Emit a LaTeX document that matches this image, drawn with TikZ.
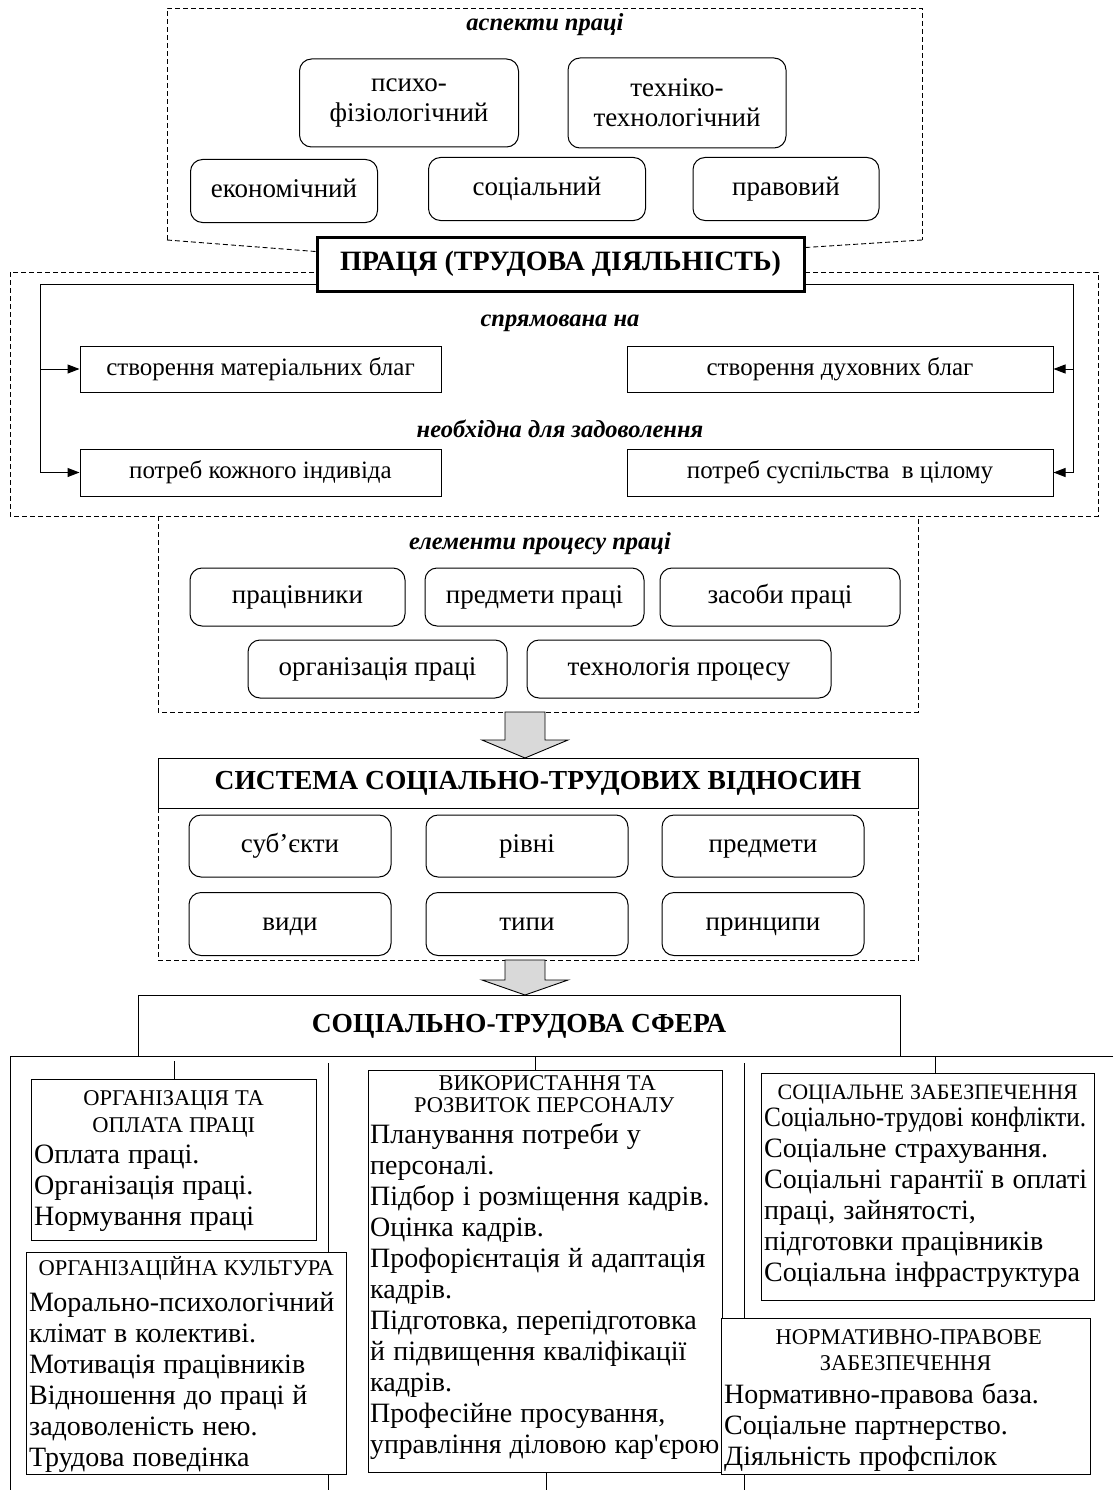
\documentclass[tikz,border=0pt]{standalone}
\usepackage{fontspec}
\usepackage{graphicx}
\setmainfont{Liberation Serif}
\usetikzlibrary{arrows.meta,calc}
\newcommand{\hdf}[1][27]{\centering\fontsize{22.5}{#1}\selectfont\spaceskip=0.27em\relax\lineskiplimit=-30pt\rule{0pt}{20pt}}
\newcommand{\bdf}{\raggedright\fontsize{28}{31}\selectfont\spaceskip=0.29em\relax\lineskiplimit=-30pt}
\newcommand{\bl}[1]{\mbox{#1}\\}
\newcommand{\blast}[1]{\mbox{#1}\par}
\begin{document}
\begin{tikzpicture}[x=1pt,y=-1pt,
  ln/.style={line width=1pt},
  dsh/.style={line width=0.9pt, dash pattern=on 5pt off 3pt},
  rbase/.style={draw, line width=1pt, rounded corners=12pt, align=center, inner sep=0pt, font=\fontsize{27}{30}\selectfont},
  rbox/.style={rbase, text height=19pt, text depth=6pt},
  sbox/.style={draw, line width=1pt, fill=white, align=center, inner sep=0pt, text height=18pt, text depth=6pt, font=\fontsize{25}{29}\selectfont},
  lbl/.style={font=\bfseries\itshape\fontsize{24.5}{29}\selectfont, inner sep=0pt, text height=17pt, text depth=5pt},
  ttl/.style={draw, fill=white, align=center, inner sep=0pt, text height=19pt, text depth=6pt, font=\bfseries\fontsize{27.5}{32}\selectfont},
  tri/.style={-{Triangle[length=12pt,width=9pt]}},
  barrow/.style={draw, line width=0.9pt, fill=black!15},
  frame/.style={draw, line width=1pt, fill=white, inner sep=0pt, anchor=north west},
  txt/.style={inner sep=0pt, anchor=north west}
]
\useasboundingbox (0,0) rectangle (1113,1490);

% ---------- aspects ----------
\coordinate (aspBL) at (167,240);
\coordinate (aspBR) at (922,240);
\draw[dsh] (aspBL) -- (167,8) -- (922,8) -- (aspBR);
\node[lbl] (aspT) at (545,25) {аспекти праці};
\node[rbase, minimum width=219pt, minimum height=88pt] (psy) at (409,103) {психо-\\фізіологічний};
\node[rbase, minimum width=218pt, minimum height=90pt] (tech) at (677,103) {техніко-\\технологічний};
\node[rbox, minimum width=187pt, minimum height=63pt] (econ) at (284,191) {економічний};
\node[rbox, minimum width=217pt, minimum height=63pt] (soc) at (537,189) {соціальний};
\node[rbox, minimum width=186pt, minimum height=63pt] (law) at (786,189) {правовий};

% ---------- frame 2 and PRACIA ----------
\draw[dsh] (10,272) rectangle (1098,516);
\node[ttl, line width=3pt, minimum width=487pt, minimum height=54pt, font=\bfseries\fontsize{28}{32}\selectfont] (pracia) at (560.5,264) {ПРАЦЯ (ТРУДОВА ДІЯЛЬНІСТЬ)};
\draw[dsh] (aspBL) -- ($(pracia.north west)+(0,16)$);
\draw[dsh] (aspBR) -- ($(pracia.north east)+(0,12)$);

\node[lbl] (sprT) at (560,320) {спрямована на};
\node[lbl] (neobT) at (560,431) {необхідна для задоволення};
\node[sbox, minimum width=361pt, minimum height=46pt] (mat) at (260.5,369) {створення матеріальних благ};
\node[sbox, minimum width=426pt, minimum height=46pt] (duh) at (840,369) {створення духовних благ};
\node[sbox, minimum width=361pt, minimum height=47pt] (indiv) at (260.5,472.5) {потреб кожного індивіда};
\node[sbox, minimum width=426pt, minimum height=47pt] (suspil) at (840,472.5) {потреб суспільства \ в цілому};

\coordinate (bl) at (40,284);
\coordinate (br) at (1073,284);
\draw[ln,tri] (pracia.west |- bl) -- (bl) |- (indiv.west);
\draw[ln,tri] (bl |- mat.west) -- (mat.west);
\draw[ln,tri] (pracia.east |- br) -- (br) |- (suspil.east);
\draw[ln,tri] (br |- duh.east) -- (duh.east);

% ---------- elements ----------
\draw[dsh] (158,516) -- (158,712) -- (918,712) -- (918,516);
\node[lbl] (elT) at (540,543) {елементи процесу праці};
\node[rbox, minimum width=215pt, minimum height=58pt] (prac) at (297.5,597) {працівники};
\node[rbox, minimum width=219pt, minimum height=58pt] (predm) at (534.5,597) {предмети праці};
\node[rbox, minimum width=240pt, minimum height=58pt] (zasob) at (780,597) {засоби праці};
\node[rbox, minimum width=259pt, minimum height=58pt] (orgp) at (377.5,669) {організація праці};
\node[rbox, minimum width=304pt, minimum height=58pt] (techp) at (679,669) {технологія процесу};

% block arrow 1
\coordinate (a1) at (525,712);
\draw[barrow] ($(a1)+(-20,0)$) -- ($(a1)+(20,0)$) -- ($(a1)+(20,28)$) -- ($(a1)+(43,28)$) -- ($(a1)+(0,46)$) -- ($(a1)+(-43,28)$) -- ($(a1)+(-20,28)$) -- cycle;

% ---------- system ----------
\draw[dsh] (158,808) -- (158,960) -- (918,960) -- (918,808);
\node[ttl, line width=1pt, minimum width=760pt, minimum height=50pt] (sys) at (538,783) {СИСТЕМА СОЦІАЛЬНО-ТРУДОВИХ ВІДНОСИН};
\node[rbox, minimum width=202pt, minimum height=62pt] (subj) at (290,846) {суб’єкти};
\node[rbox, minimum width=202pt, minimum height=62pt] (rivni) at (527,846) {рівні};
\node[rbox, minimum width=202pt, minimum height=62pt] (predmety) at (763,846) {предмети};
\node[rbox, minimum width=202pt, minimum height=63pt] (vydy) at (290,924) {види};
\node[rbox, minimum width=202pt, minimum height=63pt] (typy) at (527,924) {типи};
\node[rbox, minimum width=202pt, minimum height=63pt] (pryn) at (763,924) {принципи};

% block arrow 2
\coordinate (a2) at (525,960);
\draw[barrow] ($(a2)+(-20,0)$) -- ($(a2)+(20,0)$) -- ($(a2)+(20,20)$) -- ($(a2)+(43,20)$) -- ($(a2)+(0,35)$) -- ($(a2)+(-43,20)$) -- ($(a2)+(-20,20)$) -- cycle;

% ---------- sphere ----------
\node[ttl, line width=1pt, minimum width=762pt, minimum height=61pt] (sfera) at (519,1025.5) {СОЦІАЛЬНО-ТРУДОВА СФЕРА};
\coordinate (hl) at (10,1056);
\draw[ln] (1113,1056) -- (hl) -- (10,1490);
\draw[ln] (328,1063) -- (328,1490);
\draw[ln] (744,1063) -- (744,1490);

% boxes
\node[frame, minimum width=285pt, minimum height=161pt] (orgpay) at (31,1079) {};
\node[frame, minimum width=320pt, minimum height=222pt] (orgcult) at (26,1252) {};
\node[frame, minimum width=354pt, minimum height=402pt] (pers) at (368,1070) {};
\node[frame, minimum width=333pt, minimum height=227pt] (socsec) at (761,1073) {};
\node[frame, minimum width=369pt, minimum height=156pt] (norm) at (721,1318) {};

\draw[ln] (orgpay.north) -- (orgpay.north |- 0,1061);
\draw[ln] (535,1056) -- (535,1070);
\draw[ln] (935,1056) -- (935,1073);
\draw[ln] (546,1472) -- (546,1490);

\node[txt, text width=279pt] (orgpayT) at (34,1085.5) {\hdf ОРГАНІЗАЦІЯ ТА\\ ОПЛАТА ПРАЦІ\par\bdf\bl{Оплата праці.}\bl{Організація праці.}\blast{Нормування праці}};
\node[txt, text width=314pt] (orgcultT) at (29,1255.5) {\hdf ОРГАНІЗАЦІЙНА КУЛЬТУРА\par\vspace{4.5pt}\bdf\bl{Морально-психологічний}\bl{клімат в колективі.}\bl{Мотивація працівників}\bl{Відношення до праці й}\bl{задоволеність нею.}\blast{Трудова поведінка}};
\node[txt, text width=348pt] (persT) at (370,1070.5) {\hdf[22] ВИКОРИСТАННЯ ТА\\ РОЗВИТОК ПЕРСОНАЛУ\par\bdf\bl{Планування потреби у}\bl{персоналі.}\bl{Підбор і розміщення кадрів.}\bl{Оцінка кадрів.}\bl{Профорієнтація й адаптація}\bl{кадрів.}\bl{Підготовка, перепідготовка}\bl{й підвищення кваліфікації}\bl{кадрів.}\bl{Професійне просування,}\blast{\resizebox{349pt}{\height}{управління діловою кар\textquotesingle єрою}}};
\node[txt, text width=327pt] (socsecT) at (764,1079) {\hdf\fontsize{22}{27}\selectfont\spaceskip=0.27em\relax СОЦІАЛЬНЕ ЗАБЕЗПЕЧЕННЯ\par\vspace{-4pt}\bdf\bl{\resizebox{322pt}{\height}{Соціально-трудові конфлікти.}}\bl{Соціальне страхування.}\bl{Соціальні гарантії в оплаті}\bl{праці, зайнятості,}\bl{підготовки працівників}\blast{Соціальна інфраструктура}};
\node[txt, text width=363pt] (normT) at (724,1324.5) {\hdf[26] НОРМАТИВНО-ПРАВОВЕ\\ ЗАБЕЗПЕЧЕННЯ\par\vspace{1.5pt}\bdf\bl{Нормативно-правова база.}\bl{Соціальне партнерство.}\blast{Діяльність профспілок}};
\end{tikzpicture}
\end{document}
